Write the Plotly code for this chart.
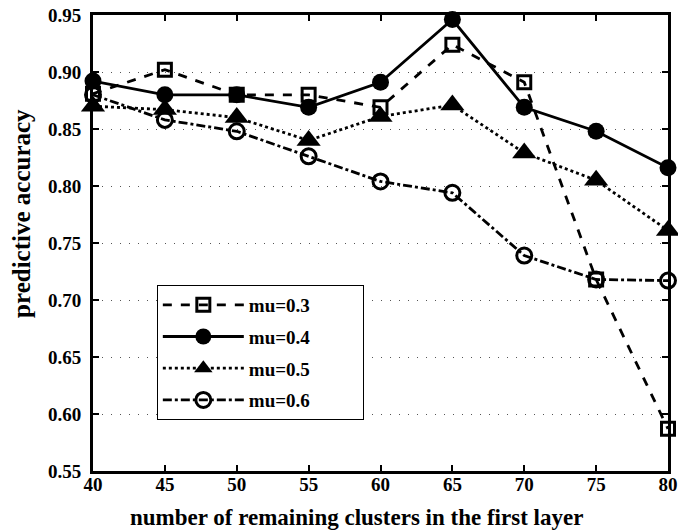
import plotly.graph_objects as go

x_vals = [40, 45, 50, 55, 60, 65, 70, 75, 80]
mu03 = [0.881, 0.902, 0.880, 0.880, 0.869, 0.924, 0.891, 0.718, 0.587]
mu04 = [0.892, 0.880, 0.880, 0.869, 0.891, 0.946, 0.869, 0.848, 0.816]
mu05 = [0.870, 0.867, 0.860, 0.840, 0.861, 0.871, 0.829, 0.805, 0.761]
mu06 = [0.880, 0.858, 0.848, 0.826, 0.804, 0.794, 0.739, 0.718, 0.717]
y_ticks = [0.55, 0.60, 0.65, 0.70, 0.75, 0.80, 0.85, 0.90, 0.95]
x_ticks = [40, 45, 50, 55, 60, 65, 70, 75, 80]
x_title = "number of remaining clusters in the first layer"
y_title = "predictive accuracy"

font_family = "Liberation Serif"

fig = go.Figure()
series = [
    ("mu=0.3", mu03, "dash", dict(symbol="square-open", size=13, color="black", line=dict(width=3, color="black"))),
    ("mu=0.4", mu04, "solid", dict(symbol="circle", size=17, color="black")),
    ("mu=0.5", mu05, "dot", dict(symbol="triangle-up", size=21, color="black")),
    ("mu=0.6", mu06, "dashdot", dict(symbol="circle-open", size=15, color="black", line=dict(width=3, color="black"))),
]
for i, (name, ys, dash, marker) in enumerate(series):
    fig.add_trace(go.Scatter(
        x=x_vals, y=ys, name=name + "\u00a0" * 10, mode="lines+markers",
        line=dict(color="black", width=2.8, dash=dash),
        marker=marker, cliponaxis=False, legendgroup=f"g{i}",
    ))

axis_common = dict(
    showline=True, linecolor="black", linewidth=3, mirror="allticks",
    ticks="inside", ticklen=6, tickwidth=2, tickcolor="black",
    tickfont=dict(family=font_family, size=19, color="black", weight="bold"),
    zeroline=False, automargin=False,
)

fig.update_xaxes(
    range=[40, 80], tickvals=x_ticks, showgrid=False, ticklabelstandoff=-6,
    **axis_common,
)
fig.update_yaxes(
    range=[0.55, 0.95], tickvals=y_ticks, tickformat=".2f", ticklabelstandoff=5,
    showgrid=True, gridcolor="#555555", gridwidth=1, griddash="1px,8px",
    **axis_common,
)

fig.add_annotation(
    text=f"<b>{x_title}</b>", xref="paper", yref="paper", x=0.459, y=-0.103,
    xanchor="center", yanchor="middle", showarrow=False,
    font=dict(family=font_family, size=23, color="black"),
)
fig.add_annotation(
    text=f"<b>{y_title}</b>", xref="paper", yref="paper", x=-0.1235, y=0.566,
    xanchor="center", yanchor="middle", showarrow=False, textangle=-90,
    font=dict(family=font_family, size=25, color="black"),
)

fig.update_layout(
    width=678, height=531,
    margin=dict(l=93, r=10, t=15, b=60),
    plot_bgcolor="white", paper_bgcolor="white",
    font=dict(family=font_family, color="black"),
    legend=dict(
        x=0.111, y=0.408, xanchor="left", yanchor="top",
        bgcolor="white", bordercolor="black", borderwidth=1,
        font=dict(family=font_family, size=19, color="black", weight="bold"),
        itemwidth=81, tracegroupgap=4,
    ),
    showlegend=True,
)

fig.write_html("out.html", config={"displayModeBar": False},
               post_script="document.body.style.margin='0';document.body.style.overflow='hidden';")
